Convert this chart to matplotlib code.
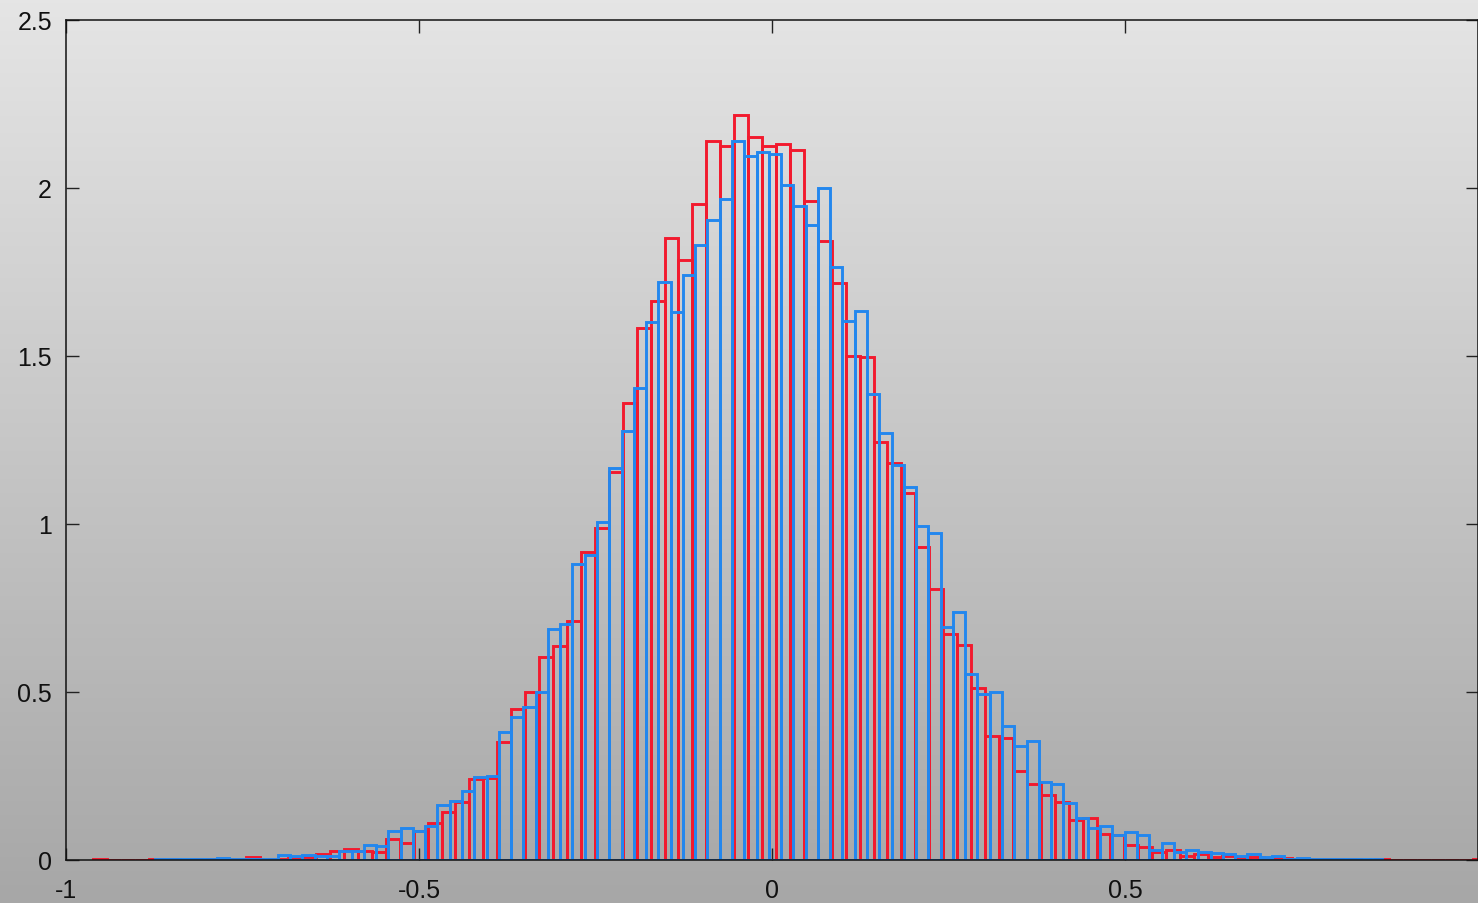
import numpy as np
import matplotlib
matplotlib.use("Agg")
import matplotlib.pyplot as plt

# ---- data ----
red_start = -0.9616
red_width = 0.01974
red_heights = [
    0.003, 0.000, 0.000, 0.001, 0.003, 0.002, 0.001, 0.002, 0.002, 0.002,
    0.004, 0.010, 0.004, 0.004, 0.006, 0.010, 0.018, 0.027, 0.032, 0.028,
    0.025, 0.062, 0.051, 0.086, 0.109, 0.144, 0.172, 0.241, 0.243, 0.350,
    0.449, 0.501, 0.603, 0.636, 0.712, 0.916, 0.988, 1.156, 1.360, 1.582,
    1.665, 1.851, 1.786, 1.953, 2.139, 2.126, 2.218, 2.153, 2.126, 2.132,
    2.114, 1.960, 1.841, 1.716, 1.499, 1.496, 1.243, 1.181, 1.091, 0.931,
    0.807, 0.673, 0.641, 0.511, 0.368, 0.363, 0.264, 0.226, 0.193, 0.174,
    0.120, 0.126, 0.077, 0.075, 0.044, 0.039, 0.023, 0.030, 0.011, 0.018,
    0.009, 0.012, 0.006, 0.008, 0.006, 0.005, 0.003, 0.003, 0.002, 0.002,
    0.003, 0.001, 0.002, 0.001, 0.001, 0.000, 0.001, 0.000, 0.000, 0.004,
]

blue_start = -0.8737
blue_width = 0.017384
blue_heights = [
    0.002, 0.002, 0.002, 0.004, 0.003, 0.005, 0.004, 0.003, 0.004, 0.004,
    0.015, 0.012, 0.016, 0.011, 0.013, 0.026, 0.026, 0.045, 0.043, 0.087,
    0.095, 0.087, 0.102, 0.165, 0.176, 0.206, 0.246, 0.249, 0.382, 0.425,
    0.454, 0.499, 0.688, 0.702, 0.881, 0.909, 1.005, 1.166, 1.276, 1.404,
    1.600, 1.719, 1.632, 1.741, 1.831, 1.906, 1.967, 2.139, 2.096, 2.108,
    2.101, 2.009, 1.947, 1.890, 1.999, 1.766, 1.603, 1.635, 1.387, 1.271,
    1.176, 1.109, 0.995, 0.972, 0.693, 0.737, 0.554, 0.494, 0.501, 0.398,
    0.340, 0.355, 0.231, 0.226, 0.170, 0.124, 0.095, 0.102, 0.074, 0.084,
    0.074, 0.031, 0.051, 0.023, 0.031, 0.025, 0.020, 0.018, 0.011, 0.018,
    0.008, 0.012, 0.004, 0.006, 0.003, 0.003, 0.002, 0.002, 0.002, 0.003,
]

x_ticks = [-1, -0.5, 0, 0.5]
x_tick_labels = ["-1", "-0.5", "0", "0.5"]
y_ticks = [0, 0.5, 1, 1.5, 2, 2.5]
y_tick_labels = ["0", "0.5", "1", "1.5", "2", "2.5"]

# ---- figure ----
plt.rcParams['font.family'] = ['Liberation Sans', 'DejaVu Sans']
W, H = 1478, 904
fig = plt.figure(figsize=(W / 100, H / 100), dpi=100)

# background gradient over the whole figure
bg = fig.add_axes([0, 0, 1, 1], zorder=-10)
grad = np.linspace(0, 1, 256).reshape(-1, 1)
top_c = np.array([229, 229, 229]) / 255.0
bot_c = np.array([167, 167, 167]) / 255.0
img = top_c[None, None, :] * (1 - grad[:, :, None]) + bot_c[None, None, :] * grad[:, :, None]
bg.imshow(img, aspect='auto', extent=[0, 1, 0, 1], origin='upper')
bg.set_axis_off()

left = 66 / W
bottom = (H - 861) / H
top = (H - 21) / H
ax = fig.add_axes([left, bottom, 1.0 - left, top - bottom])
ax.set_facecolor('none')

red_edges = red_start + red_width * np.arange(len(red_heights))
blue_edges = blue_start + blue_width * np.arange(len(blue_heights))

ax.bar(red_edges, red_heights, width=red_width, align='edge', fill=False,
       edgecolor='#f21a2e', linewidth=2.1, zorder=2)
ax.bar(blue_edges, blue_heights, width=blue_width, align='edge', fill=False,
       edgecolor='#2387ee', linewidth=2.1, zorder=3)

ax.set_xlim(-1, 1)
ax.set_ylim(0, 2.5)
ax.set_xticks(x_ticks)
ax.set_xticklabels(x_tick_labels)
ax.set_yticks(y_ticks)
ax.set_yticklabels(y_tick_labels)
ax.tick_params(axis='both', direction='in', length=9, width=1.0, color='#222222',
               labelsize=18, labelcolor='#111111', top=True, right=True)
ax.tick_params(axis='y', pad=10)
ax.tick_params(axis='x', pad=13)
for s in ax.spines.values():
    s.set_color('#111111')
    s.set_linewidth(1.1)
    s.set_zorder(5)

fig.savefig('out.png', dpi=100)
